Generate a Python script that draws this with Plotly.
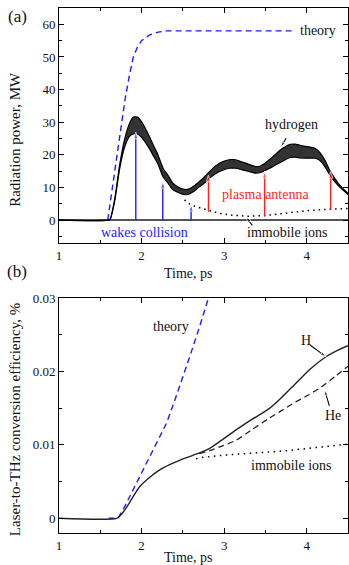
import plotly.graph_objects as go

# ---------------- panel (a): radiation power, MW ----------------
t_theory_a = [1.59, 1.65, 1.70, 1.75, 1.80, 1.85, 1.90, 1.95, 2.00, 2.10, 2.20, 2.30, 2.40, 3.82]
p_theory_a = [0.0, 10.5, 19.0, 28.0, 37.0, 44.0, 50.0, 53.0, 55.0, 56.8, 57.6, 58.0, 58.0, 58.0]

t_hyd = [1.00, 1.60, 1.62, 1.675, 1.735, 1.795, 1.855, 1.90, 1.95, 2.00, 2.05, 2.10, 2.15, 2.20,
         2.26, 2.32, 2.38, 2.45, 2.52, 2.58, 2.62, 2.68, 2.74, 2.82, 2.90, 2.98, 3.06, 3.14,
         3.22, 3.30, 3.38, 3.44, 3.50, 3.56, 3.62, 3.68, 3.74, 3.80, 3.86, 3.92, 3.98, 4.04,
         4.10, 4.16, 4.22, 4.28, 4.34, 4.40, 4.45, 4.50]
p_hyd_mean = [0.0, 0.0, 0.3, 6.2, 16.4, 23.6, 27.7, 29.0, 29.0, 27.8, 25.8, 23.5, 21.0, 18.5,
              14.6, 12.5, 10.3, 9.2, 8.6, 8.8, 9.4, 10.6, 11.8, 13.8, 15.5, 16.6, 17.2, 17.2,
              16.6, 16.0, 15.4, 15.6, 16.4, 17.4, 18.5, 19.6, 20.5, 21.2, 21.3, 21.0, 20.8, 20.7,
              20.5, 19.5, 17.4, 14.5, 12.3, 10.4, 9.2, 8.0]
p_hyd_swing = [0.0, 0.0, 0.0, 0.3, 0.6, 1.2, 2.0, 2.6, 2.6, 2.4, 2.1, 1.8, 1.6, 1.4,
               1.3, 1.2, 1.0, 0.8, 0.8, 0.8, 0.8, 0.8, 0.9, 1.0, 1.2, 1.3, 1.3, 1.3,
               1.2, 1.1, 1.0, 1.0, 1.1, 1.4, 1.6, 1.9, 2.0, 2.0, 2.0, 1.9, 1.8, 1.7,
               1.5, 1.2, 1.0, 0.7, 0.5, 0.3, 0.2, 0.2]

t_imm_a = [2.52, 2.58, 2.66, 2.74, 2.82, 2.94, 3.10, 3.30, 3.50, 3.70, 3.90, 4.10, 4.30, 4.50]
p_imm_a = [6.2, 5.0, 4.1, 3.5, 3.0, 2.1, 1.5, 1.2, 1.4, 2.1, 2.6, 3.1, 3.4, 3.6]

blue_arrow_t = [1.93, 2.257, 2.60]
blue_arrow_from = [0.0, 0.0, 0.0]
blue_arrow_to = [27.0, 11.8, 4.8]

red_arrow_t = [2.81, 3.49, 4.29]
red_arrow_from = [2.6, 1.2, 3.3]
red_arrow_to = [13.8, 14.9, 14.9]

# ---------------- panel (b): conversion efficiency, % ----------------
t_theory_b = [1.60, 1.715, 1.80, 1.895, 2.00, 2.10, 2.20, 2.30, 2.40, 2.50, 2.58, 2.70, 2.81]
e_theory_b = [0.0, 0.0, 0.0017, 0.0038, 0.0061, 0.0083, 0.0106, 0.0129, 0.0160, 0.0192, 0.0219, 0.0260, 0.0300]

t_H = [1.00, 1.70, 1.76, 1.83, 1.895, 1.976, 2.10, 2.22, 2.34, 2.46, 2.58, 2.70, 2.82, 2.94,
       3.14, 3.34, 3.54, 3.70, 3.86, 4.04, 4.22, 4.36, 4.50]
e_H = [0.0, 0.0, 0.0006, 0.0017, 0.0029, 0.0043, 0.0056, 0.0066, 0.0073, 0.0079, 0.0084, 0.0089,
       0.0095, 0.0104, 0.0120, 0.0135, 0.0149, 0.0165, 0.0183, 0.0203, 0.0219, 0.0228, 0.0235]

t_He = [2.70, 2.82, 2.94, 3.14, 3.34, 3.54, 3.70, 3.86, 4.02, 4.18, 4.34, 4.50]
e_He = [0.0088, 0.0092, 0.0097, 0.0106, 0.0121, 0.0136, 0.0147, 0.0158, 0.0168, 0.0179, 0.0193, 0.0207]

t_imm_b = [2.66, 2.74, 3.00, 3.25, 3.50, 3.75, 4.00, 4.25, 4.50]
e_imm_b = [0.0081, 0.0083, 0.0086, 0.0088, 0.0089, 0.0092, 0.0095, 0.0098, 0.0101]

# label leader arrows: (tail_t, tail_v, head_t, head_v)
leader_a = [(3.75, 25.1, 3.685, 22.3), (3.34, -1.6, 3.265, 1.0)]
leader_b = [(4.04, 0.0236, 4.235, 0.0220), (4.275, 0.0153, 4.215, 0.0175)]

BLUE = "#1c1cff"
RED = "#ff1f1f"
SERIF = "Times New Roman, Liberation Serif, serif"

fig = go.Figure()

# ---- panel (a) ----
fig.add_trace(go.Scatter(x=t_theory_a, y=p_theory_a, mode="lines",
                         line=dict(color=BLUE, width=1.4, dash="6px,4px"),
                         xaxis="x", yaxis="y"))
fig.add_trace(go.Scatter(x=t_imm_a, y=p_imm_a, mode="lines",
                         line=dict(color="black", width=1.5, dash="1.5px,4px"),
                         xaxis="x", yaxis="y"))
hyd_low = [m - s for m, s in zip(p_hyd_mean, p_hyd_swing)]
hyd_up = [m + s for m, s in zip(p_hyd_mean, p_hyd_swing)]
fig.add_trace(go.Scatter(x=t_hyd, y=hyd_low, mode="lines",
                         line=dict(color="black", width=1.2, shape="spline", smoothing=0.6),
                         xaxis="x", yaxis="y"))
fig.add_trace(go.Scatter(x=t_hyd, y=hyd_up, mode="lines", fill="tonexty",
                         fillcolor="rgba(0,0,0,0.8)",
                         line=dict(color="black", width=1.2, shape="spline", smoothing=0.6),
                         xaxis="x", yaxis="y"))

for t, a, b in zip(blue_arrow_t, blue_arrow_from, blue_arrow_to):
    fig.add_trace(go.Scatter(x=[t, t], y=[a, b], mode="lines+markers",
                             line=dict(color=BLUE, width=1.4),
                             marker=dict(symbol="arrow", size=[0, 7], color=BLUE, angleref="previous"),
                             xaxis="x", yaxis="y"))
for t, a, b in zip(red_arrow_t, red_arrow_from, red_arrow_to):
    fig.add_trace(go.Scatter(x=[t, t], y=[a, b], mode="lines+markers",
                             line=dict(color=RED, width=1.4),
                             marker=dict(symbol="arrow", size=[0, 7], color=RED, angleref="previous"),
                             xaxis="x", yaxis="y"))
for (x0, y0, x1, y1) in leader_a:
    fig.add_trace(go.Scatter(x=[x0, x1], y=[y0, y1], mode="lines+markers",
                             line=dict(color="black", width=1.1),
                             marker=dict(symbol="arrow", size=[0, 6], color="black", angleref="previous"),
                             xaxis="x", yaxis="y"))

# ---- panel (b) ----
fig.add_trace(go.Scatter(x=t_theory_b, y=e_theory_b, mode="lines",
                         line=dict(color=BLUE, width=1.4, dash="6px,4px"),
                         xaxis="x2", yaxis="y2"))
fig.add_trace(go.Scatter(x=t_imm_b, y=e_imm_b, mode="lines",
                         line=dict(color="black", width=1.5, dash="1.5px,4.5px"),
                         xaxis="x2", yaxis="y2"))
fig.add_trace(go.Scatter(x=t_He, y=e_He, mode="lines",
                         line=dict(color="#222", width=1.3, dash="6px,4px", shape="spline", smoothing=0.6),
                         xaxis="x2", yaxis="y2"))
fig.add_trace(go.Scatter(x=t_H, y=e_H, mode="lines",
                         line=dict(color="#222", width=1.4, shape="spline", smoothing=0.6),
                         xaxis="x2", yaxis="y2"))
for (x0, y0, x1, y1) in leader_b:
    fig.add_trace(go.Scatter(x=[x0, x1], y=[y0, y1], mode="lines+markers",
                             line=dict(color="black", width=1.1),
                             marker=dict(symbol="arrow", size=[0, 6], color="black", angleref="previous"),
                             xaxis="x2", yaxis="y2"))

tickfont = dict(family=SERIF, size=13, color="#111")
common_x = dict(range=[1, 4.5], tickvals=[1, 2, 3, 4], showgrid=False, zeroline=False,
                showline=True, linecolor="black", linewidth=1, mirror="ticks",
                ticks="inside", ticklen=5, tickwidth=1, tickcolor="black",
                minor=dict(ticks="inside", ticklen=3, dtick=0.5, tick0=1, tickcolor="black"),
                tickfont=tickfont)
common_y = dict(showgrid=False, showline=True, linecolor="black", linewidth=1, mirror="ticks",
                ticks="inside", ticklen=5, tickwidth=1, tickcolor="black", tickfont=tickfont)

fig.update_layout(
    width=349, height=565,
    margin=dict(l=59, r=1, t=8, b=32),
    paper_bgcolor="white", plot_bgcolor="white",
    showlegend=False,
    font=dict(family=SERIF),
    xaxis=dict(domain=[0, 1], anchor="y", **common_x),
    yaxis=dict(domain=[0.5524, 1], anchor="x", range=[-7, 65],
               tickvals=[0, 10, 20, 30, 40, 50, 60],
               minor=dict(ticks="inside", ticklen=3, dtick=5, tick0=0, tickcolor="black"),
               zeroline=True, zerolinecolor="#555", zerolinewidth=1.5, **common_y),
    xaxis2=dict(domain=[0, 1], anchor="y2", **common_x),
    yaxis2=dict(domain=[0, 0.4476], anchor="x2", range=[-0.002, 0.03],
                tickvals=[0, 0.01, 0.02, 0.03], ticktext=["0", "0.01", "0.02", "0.03"],
                minor=dict(ticks="inside", ticklen=3, dtick=0.005, tick0=0, tickcolor="black"),
                zeroline=False, **common_y),
)

def note(text, x, y, xref, yref, size=14, color="#111", angle=0, xanchor="center"):
    fig.add_annotation(text=text, x=x, y=y, xref=xref, yref=yref, showarrow=False,
                       font=dict(family=SERIF, size=size, color=color), textangle=angle,
                       xanchor=xanchor, yanchor="middle")

# panel labels and axis titles
note("(a)", -0.1436, 0.9834, "paper", "paper", size=17)
note("(b)", -0.1436, 0.498, "paper", "paper", size=17)
note("Radiation power, MW", -0.1522, 0.749, "paper", "paper", size=15, angle=-90)
note("Laser-to-THz conversion efficiency, %", -0.1522, 0.215, "paper", "paper", size=15, angle=-90)
note("Time, ps", 2.574, -0.128, "x", "y domain", size=14)
note("Time, ps", 2.574, -0.106, "x2", "y2 domain", size=14)

# panel (a) labels
note("theory", 3.89, 58.2, "x", "y", xanchor="left")
note("hydrogen", 3.82, 29.2, "x", "y")
note("plasma antenna", 3.50, 8.0, "x", "y", color=RED)
note("wakes collision", 2.03, -3.9, "x", "y", color=BLUE)
note("immobile ions", 3.77, -3.9, "x", "y")

# panel (b) labels
note("theory", 2.355, 0.0261, "x2", "y2")
note("H", 3.99, 0.0242, "x2", "y2")
note("He", 4.32, 0.0140, "x2", "y2")
note("immobile ions", 3.82, 0.00724, "x2", "y2")

fig.write_html("out.html")
